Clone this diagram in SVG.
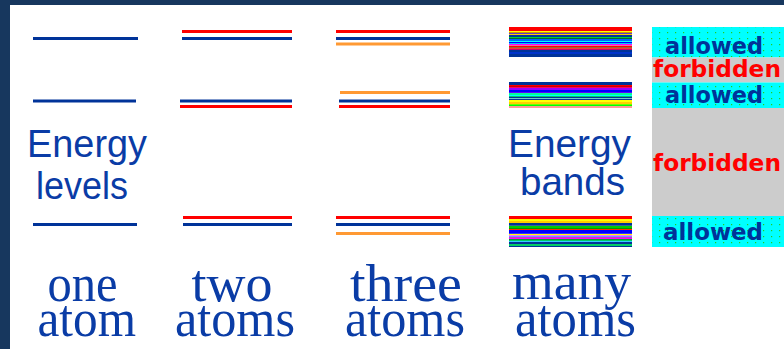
<svg xmlns="http://www.w3.org/2000/svg" width="784" height="349" viewBox="0 0 784 349">
<style>
.b{stroke:#003399;stroke-width:3}
.r{stroke:#ff0000;stroke-width:3}
.o{stroke:#ff9933;stroke-width:3}
.lbl{font-family:"Liberation Sans",Arial,sans-serif;font-size:39px;fill:#0a3ca6}
.atom{font-family:"Liberation Serif","Times New Roman",serif;font-size:53px;fill:#0a3ca6}
.al{font-family:"DejaVu Sans",Verdana,sans-serif;font-weight:bold;font-size:23px;fill:#003399}
.fb{font-family:"DejaVu Sans",Verdana,sans-serif;font-weight:bold;font-size:23px;fill:#ff0000}
</style>
<defs>
<pattern id="dots" width="8" height="6" patternUnits="userSpaceOnUse">
<rect width="8" height="6" fill="#00ffff"/>
<rect x="3" y="2" width="1.2" height="1.2" fill="#22cc22"/>
</pattern>
</defs>
<rect width="784" height="349" fill="#17375e"/>
<rect x="10" y="5" width="774" height="344" fill="#ffffff"/>

<g id="one-atom">
<line class="b" x1="33" y1="38.5" x2="138" y2="38.5"/>
<line class="b" x1="33" y1="101" x2="136" y2="101"/>
<line class="b" x1="33" y1="224.5" x2="137" y2="224.5"/>
<text class="lbl"><tspan x="27" y="157" textLength="120" lengthAdjust="spacingAndGlyphs">Energy</tspan><tspan x="36" y="199" textLength="92" lengthAdjust="spacingAndGlyphs">levels</tspan></text>
<text class="atom"><tspan x="47.5" y="301" textLength="70" lengthAdjust="spacingAndGlyphs">one</tspan><tspan x="37.5" y="336" textLength="98.5" lengthAdjust="spacingAndGlyphs">atom</tspan></text>
</g>

<g id="two-atoms">
<line class="r" x1="182" y1="31.5" x2="292" y2="31.5"/>
<line class="b" x1="182" y1="38.5" x2="292" y2="38.5"/>
<line class="b" x1="180" y1="101" x2="292" y2="101"/>
<line class="r" x1="180" y1="106.5" x2="292" y2="106.5"/>
<line class="r" x1="183" y1="217.5" x2="292" y2="217.5"/>
<line class="b" x1="183" y1="224.5" x2="292" y2="224.5"/>
<text class="atom"><tspan x="191.5" y="301" textLength="81" lengthAdjust="spacingAndGlyphs">two</tspan><tspan x="175" y="336" textLength="120" lengthAdjust="spacingAndGlyphs">atoms</tspan></text>
</g>

<g id="three-atoms">
<line class="r" x1="336" y1="31.5" x2="450" y2="31.5"/>
<line class="b" x1="336" y1="38.5" x2="450" y2="38.5"/>
<line class="o" x1="336" y1="44" x2="450" y2="44"/>
<line class="o" x1="340" y1="92.5" x2="450" y2="92.5"/>
<line class="b" x1="339" y1="101" x2="450" y2="101"/>
<line class="r" x1="339" y1="106.5" x2="450" y2="106.5"/>
<line class="r" x1="336" y1="217.5" x2="450" y2="217.5"/>
<line class="b" x1="336" y1="224.5" x2="450" y2="224.5"/>
<line class="o" x1="336" y1="233.5" x2="450" y2="233.5"/>
<text class="atom"><tspan x="350" y="301" textLength="112" lengthAdjust="spacingAndGlyphs">three</tspan><tspan x="345" y="336" textLength="120" lengthAdjust="spacingAndGlyphs">atoms</tspan></text>
</g>

<g id="many-atoms">
<g id="band-top">
<rect x="509" y="27" width="123" height="4" fill="#ff0000"/>
<rect x="509" y="31" width="123" height="1" fill="#ffff00"/>
<rect x="509" y="32" width="123" height="1" fill="#cc9900"/>
<rect x="509" y="33" width="123" height="1" fill="#6633cc"/>
<rect x="509" y="34" width="123" height="1" fill="#ffcc00"/>
<rect x="509" y="35" width="123" height="2" fill="#003399"/>
<rect x="509" y="37" width="123" height="1" fill="#00cc33"/>
<rect x="509" y="38" width="123" height="1" fill="#006633"/>
<rect x="509" y="39" width="123" height="2" fill="#0066ff"/>
<rect x="509" y="41" width="123" height="1" fill="#00ffff"/>
<rect x="509" y="42" width="123" height="1" fill="#0000ff"/>
<rect x="509" y="43" width="123" height="1" fill="#00ccff"/>
<rect x="509" y="44" width="123" height="1" fill="#ff00ff"/>
<rect x="509" y="45" width="123" height="1" fill="#ff6699"/>
<rect x="509" y="46" width="123" height="1" fill="#ff0000"/>
<rect x="509" y="47" width="123" height="1" fill="#996633"/>
<rect x="509" y="48" width="123" height="1" fill="#ff3333"/>
<rect x="509" y="49" width="123" height="1" fill="#cc0066"/>
<rect x="509" y="50" width="123" height="2" fill="#003399"/>
<rect x="509" y="52" width="123" height="2" fill="#0033cc"/>
<rect x="509" y="54" width="123" height="3" fill="#003399"/>
</g>
<g id="band-mid">
<rect x="509" y="82" width="123" height="3" fill="#003399"/>
<rect x="509" y="85" width="123" height="1" fill="#ff0000"/>
<rect x="509" y="86" width="123" height="1" fill="#cc0000"/>
<rect x="509" y="87" width="123" height="1" fill="#ff0066"/>
<rect x="509" y="88" width="123" height="2" fill="#9900ff"/>
<rect x="509" y="90" width="123" height="2" fill="#0000ff"/>
<rect x="509" y="92" width="123" height="1" fill="#6600ff"/>
<rect x="509" y="93" width="123" height="2" fill="#00ff99"/>
<rect x="509" y="95" width="123" height="1" fill="#00ffff"/>
<rect x="509" y="96" width="123" height="1" fill="#00cc66"/>
<rect x="509" y="97" width="123" height="1" fill="#003399"/>
<rect x="509" y="98" width="123" height="1" fill="#66cccc"/>
<rect x="509" y="99" width="123" height="1" fill="#003399"/>
<rect x="509" y="100" width="123" height="2" fill="#ffff00"/>
<rect x="509" y="102" width="123" height="2" fill="#ffcc00"/>
<rect x="509" y="104" width="123" height="1" fill="#66ff00"/>
<rect x="509" y="105" width="123" height="1" fill="#00ff00"/>
<rect x="509" y="106" width="123" height="2" fill="#ff9999"/>
</g>
<g id="band-bottom">
<rect x="509" y="216" width="123" height="3" fill="#ff0000"/>
<rect x="509" y="219" width="123" height="2" fill="#ffff00"/>
<rect x="509" y="221" width="123" height="2" fill="#ffcc00"/>
<rect x="509" y="223" width="123" height="2" fill="#003399"/>
<rect x="509" y="225" width="123" height="1" fill="#336699"/>
<rect x="509" y="226" width="123" height="2" fill="#00cc00"/>
<rect x="509" y="228" width="123" height="1" fill="#009900"/>
<rect x="509" y="229" width="123" height="1" fill="#ff3300"/>
<rect x="509" y="230" width="123" height="3" fill="#0000ff"/>
<rect x="509" y="233" width="123" height="1" fill="#3333ff"/>
<rect x="509" y="234" width="123" height="1" fill="#ffff00"/>
<rect x="509" y="235" width="123" height="1" fill="#ff66ff"/>
<rect x="509" y="236" width="123" height="1" fill="#6699ff"/>
<rect x="509" y="237" width="123" height="1" fill="#cc33cc"/>
<rect x="509" y="238" width="123" height="1" fill="#ff00ff"/>
<rect x="509" y="239" width="123" height="1" fill="#009933"/>
<rect x="509" y="240" width="123" height="1" fill="#00cc66"/>
<rect x="509" y="241" width="123" height="1" fill="#33ccff"/>
<rect x="509" y="242" width="123" height="2" fill="#003399"/>
<rect x="509" y="244" width="123" height="2" fill="#00cc66"/>
<rect x="509" y="246" width="123" height="1" fill="#003399"/>
</g>
<text class="lbl"><tspan x="508" y="157" textLength="123" lengthAdjust="spacingAndGlyphs">Energy</tspan><tspan x="520" y="195" textLength="105" lengthAdjust="spacingAndGlyphs">bands</tspan></text>
<text class="atom"><tspan x="512" y="299" textLength="119" lengthAdjust="spacingAndGlyphs">many</tspan><tspan x="515" y="336" textLength="121" lengthAdjust="spacingAndGlyphs">atoms</tspan></text>
</g>

<g id="band-legend">
<rect x="652" y="27" width="132" height="30.5" fill="url(#dots)"/>
<rect x="652" y="57.5" width="132" height="25" fill="#cccccc"/>
<rect x="652" y="82.5" width="132" height="25.5" fill="url(#dots)"/>
<rect x="652" y="108" width="132" height="108" fill="#cccccc"/>
<rect x="652" y="216" width="132" height="31" fill="url(#dots)"/>
<text class="al" x="665" y="54" textLength="98" lengthAdjust="spacingAndGlyphs">allowed</text>
<text class="fb" x="653" y="77" textLength="128" lengthAdjust="spacingAndGlyphs">forbidden</text>
<text class="al" x="665" y="103" textLength="98" lengthAdjust="spacingAndGlyphs">allowed</text>
<text class="fb" x="653" y="171" textLength="128" lengthAdjust="spacingAndGlyphs">forbidden</text>
<text class="al" x="663" y="240" textLength="100" lengthAdjust="spacingAndGlyphs">allowed</text>
</g>
</svg>
